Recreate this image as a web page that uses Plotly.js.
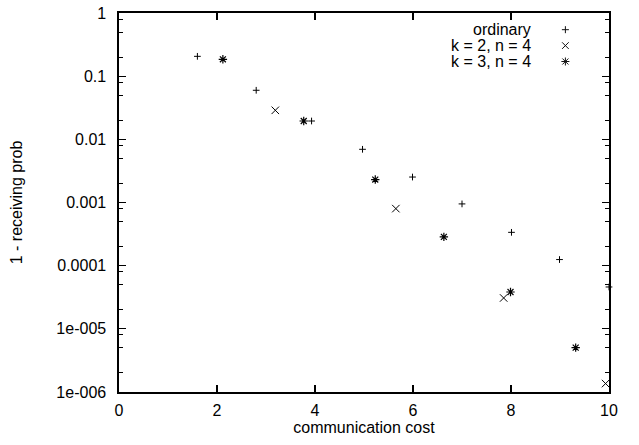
<!DOCTYPE html>
<html>
<head>
<meta charset="utf-8">
<script src="https://cdn.plot.ly/plotly-3.0.1.min.js"></script>
<style>html,body{margin:0;padding:0;background:#fff;}#chart{width:639px;height:445px;}</style>
</head>
<body>
<div id="chart"></div>
<script>
// Data
const ordinaryX = [1.6, 2.8, 3.93, 4.97, 5.99, 7.0, 8.01, 8.99, 10.0];
const ordinaryY = [0.206, 0.0598, 0.0195, 0.00695, 0.00253, 0.00095, 0.000337, 0.000125, 0.000046];
const k2X = [3.19, 5.65, 7.85, 9.93];
const k2Y = [0.0288, 0.0008, 0.0000308, 0.00000136];
const k3X = [2.12, 3.77, 5.23, 6.63, 7.99, 9.32];
const k3Y = [0.185, 0.0195, 0.00231, 0.000286, 0.0000383, 0.00000505];
const seriesNames = ["ordinary", "k = 2, n = 4", "k = 3, n = 4"];
const yTickVals = [1, 0.1, 0.01, 0.001, 0.0001, 0.00001, 0.000001];
const yTickText = ["1", "0.1", "0.01", "0.001", "0.0001", "1e-005", "1e-006"];
const xTickVals = [0, 2, 4, 6, 8, 10];
const yMinorVals = [];
[1, 0.1, 0.01, 0.001, 0.0001, 0.00001].forEach(d => { yMinorVals.push(0.8*d, 0.5*d, 0.2*d); });

const FONT = "Liberation Sans, Arial, sans-serif";
const FS = 16;
const black = "#000";

const traces = [
  {x: ordinaryX, y: ordinaryY, name: seriesNames[0], mode: "markers", cliponaxis: false,
   marker: {symbol: "cross-thin-open", size: 4.8, color: black, line: {width: 1, color: "#111"}}},
  {x: k2X, y: k2Y, name: seriesNames[1], mode: "markers", cliponaxis: false,
   marker: {symbol: "x-thin-open", size: 7.5, color: black, line: {width: 1, color: "#111"}}},
  {x: k3X, y: k3Y, name: seriesNames[2], mode: "markers", cliponaxis: false,
   marker: {symbol: "asterisk-open", size: 7, color: black, line: {width: 1.2, color: "#000"}}}
];

// legend drawn gnuplot-style: text right-aligned, key symbol on the right
const legRows = [0.956, 0.914, 0.872];
const textX = 0.845, symX = 0.911;
const symPaths = [
  "M-3.5,0H3.5M0,-3.5V3.5",
  "M-3.3,-3.3L3.3,3.3M-3.3,3.3L3.3,-3.3",
  "M-4,0H4M0,-4V4M-3,-3L3,3M-3,3L3,-3"
];
const annotations = seriesNames.map((n, i) => ({
  xref: "paper", yref: "paper", x: textX, y: legRows[i], text: n, showarrow: false,
  xanchor: "right", yanchor: "middle", font: {family: FONT, size: FS, color: black}
}));
const shapes = symPaths.map((p, i) => ({
  type: "path", xref: "paper", yref: "paper", xsizemode: "pixel", ysizemode: "pixel",
  xanchor: symX, yanchor: legRows[i], path: p, line: {color: "#111", width: 1}
}));

const layout = {
  width: 639, height: 445,
  margin: {l: 119, r: 30, t: 13, b: 53},
  paper_bgcolor: "#fff", plot_bgcolor: "#fff",
  showlegend: false,
  font: {family: FONT, size: FS, color: black},
  xaxis: {
    range: [0, 10], tickvals: xTickVals, ticktext: xTickVals.map(String),
    ticks: "inside", ticklen: 7, tickwidth: 1.2, tickcolor: black,
    showline: true, linecolor: black, linewidth: 1.6, mirror: "ticks",
    showgrid: false, zeroline: false, ticklabelstandoff: 3,
    title: {text: "communication cost", font: {family: FONT, size: FS, color: black}, standoff: 1}
  },
  yaxis: {
    type: "log", range: [-6, 0], tickvals: yTickVals, ticktext: yTickText,
    ticks: "inside", ticklen: 7, tickwidth: 1.2, tickcolor: black,
    showline: true, linecolor: black, linewidth: 1.6, mirror: "ticks",
    showgrid: false, zeroline: false, ticklabelstandoff: 8,
    minor: {tickvals: yMinorVals, ticks: "inside", ticklen: 4, tickwidth: 1, tickcolor: black, showgrid: false},
    title: {text: "1 - receiving prob", font: {family: FONT, size: FS, color: black}, standoff: 30}
  },
  annotations: annotations,
  shapes: shapes
};

Plotly.newPlot("chart", traces, layout, {staticPlot: true, displayModeBar: false});
</script>
</body>
</html>
